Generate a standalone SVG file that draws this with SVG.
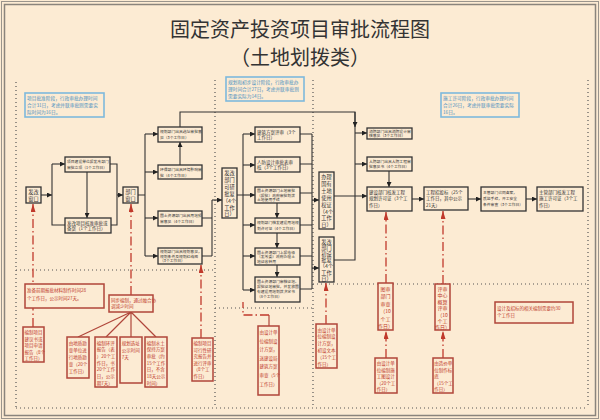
<svg xmlns="http://www.w3.org/2000/svg" width="600" height="420" viewBox="0 0 600 420">
<style>
.bg{fill:#fcebd3}
.bx{fill:#fcebd3;stroke:#333;stroke-width:1.3}
.rb{fill:#fcebd3;stroke:#b0463a;stroke-width:1.5}
.nb{fill:#fcebd3;stroke:#7db9dc;stroke-width:1.6}
text{font-family:"Noto Sans CJK SC","Noto Sans",sans-serif;fill:#333}
.t{font-size:3.8px}
.t4{font-size:4.5px}
.tv{font-size:5.2px;text-anchor:middle}
.rt{font-size:4.5px;fill:#c0392b}
.rv{font-size:5px;fill:#c0392b;text-anchor:middle}
.bt{font-size:4.7px;fill:#4a8fc0}
.ln{fill:none;stroke:#333;stroke-width:1.1}
.ar{marker-end:url(#ab)}
.rl{fill:none;stroke:#c0392b;stroke-width:1.3;stroke-dasharray:9 3 1.5 3}
.rs{fill:none;stroke:#b0463a;stroke-width:1.2}
.ra{marker-end:url(#ar)}
.dot{fill:none;stroke:#555;stroke-width:1.2;stroke-dasharray:1 3}
</style>
<defs>
<marker id="ab" viewBox="0 0 6 6" markerWidth="5" markerHeight="5" refX="6" refY="3" orient="auto" markerUnits="userSpaceOnUse"><path d="M0,0L6,3L0,6z" fill="#222"/></marker>
<marker id="ar" viewBox="0 0 8 5" markerWidth="8" markerHeight="5" refX="8" refY="2.5" orient="auto" markerUnits="userSpaceOnUse"><path d="M0,0L8,2.5L0,5z" fill="#c0392b"/></marker>
</defs>
<rect class="bg" x="0" y="0" width="600" height="420"/>
<rect x="1.5" y="1.5" width="597" height="417" fill="none" stroke="#9a948c" stroke-width="1"/>
<rect x="4.5" y="4.5" width="591" height="411" fill="none" stroke="#8a847c" stroke-width="1.5"/>
<g id="title">
<text x="300" y="37" font-size="20" text-anchor="middle">固定资产投资项目审批流程图</text>
<text x="300" y="65" font-size="20" text-anchor="middle">（土地划拨类）</text>
</g>
<g id="dividers">
<path class="dot" d="M16,82V408M215,80V408M313,80V408M588,80V408M16,408H588M16,270H215M215,308H313M313,284H588"/>
</g>
<g id="connectors">
<path class="ln ar" d="M41,195H52"/>
<path class="ln ar" d="M52,164H65"/>
<path class="ln" d="M52,164V225H65"/>
<path class="ln ar" d="M87,172V218"/>
<path class="ln" d="M110,164H117V225H111"/>
<path class="ln ar" d="M117,195H123"/>
<path class="ln" d="M138,195H145M145,134V256"/>
<path class="ln ar" d="M145,134H158"/>
<path class="ln ar" d="M145,172H158"/>
<path class="ln ar" d="M145,218H158"/>
<path class="ln ar" d="M145,256H158"/>
<path class="ln ar" d="M180,165V142"/>
<path class="ln" d="M180,127V112H355V127"/>
<path class="ln ar" d="M355,112V127"/>
<path class="ln" d="M355,127V260H334"/>
<path class="ln ar" d="M355,133H367"/>
<path class="ln ar" d="M355,164H367"/>
<path class="ln ar" d="M334,196H367"/>
<path class="ln ar" d="M389,171V187"/>
<path class="ln" d="M202,218H212M202,256H212M212,200V256"/>
<path class="ln ar" d="M212,200H222"/>
<path class="ln" d="M237,195H243M243,134V290"/>
<path class="ln ar" d="M243,134H255"/>
<path class="ln ar" d="M243,165H255"/>
<path class="ln ar" d="M243,195H255"/>
<path class="ln ar" d="M243,225H255"/>
<path class="ln ar" d="M243,256H255"/>
<path class="ln ar" d="M243,290H255"/>
<path class="ln ar" d="M277,203V218"/>
<path class="ln ar" d="M277,233V248"/>
<path class="ln ar" d="M277,265V277"/>
<path class="ln" d="M300,134H312M300,164H312M300,193H312M300,225H312M300,256H312M300,289H312M312,134V289"/>
<path class="ln ar" d="M312,200H319"/>
<path class="ln ar" d="M312,268H319"/>
<path class="ln ar" d="M412,199H424"/>
<path class="ln ar" d="M468,199H481"/>
<path class="ln ar" d="M526,199H537"/>
<path class="rl ra" d="M33,327V204"/>
<path class="rl ra" d="M131,295V204"/>
<path class="rs" d="M131,312L78,337M131,312L106,337M131,312L131,337M131,312L156,337"/>
<path class="rl ra" d="M201,338V265"/>
<path class="rs" d="M269,326V315"/>
<path class="rl" d="M269,315H243V302"/>
<path class="rl ra" d="M326,324V283"/>
<path class="rl ra" d="M386,283V212"/>
<path class="rl ra" d="M386,358V331"/>
<path class="rl ra" d="M443,284V211"/>
<path class="rl ra" d="M443,358V331"/>
</g>
<g id="note1"><rect class="nb" x="25" y="93" width="79" height="24"/><text class="bt" x="27" y="100">项目批准阶段，行政审批办理时间<tspan x="27" dy="6.8">合计31日，考虑并联审批则需要实</tspan><tspan x="27" dy="6.8">际时间为16日。</tspan></text></g>
<g id="note2"><rect class="nb" x="226" y="77" width="78" height="24"/><text class="bt" x="228" y="84">规划和初步设计阶段，行政审批办<tspan x="228" dy="6.8">理时间合计27日，考虑并联审批则</tspan><tspan x="228" dy="6.8">需要实际为14日。</tspan></text></g>
<g id="note3"><rect class="nb" x="441" y="93" width="78" height="24"/><text class="bt" x="443" y="100">施工许可阶段，行政审批办理时间<tspan x="443" dy="6.8">合计26日，考虑并联审批需要实际</tspan><tspan x="443" dy="6.8">16日。</tspan></text></g>
<g id="fagai-window"><rect class="bx" x="26" y="187" width="15" height="16"/><text class="tv" x="33.5" y="194">发改<tspan x="33.5" dy="6.5">窗口</tspan></text></g>
<g id="lixiang"><rect class="bx" x="65" y="157" width="45" height="15"/><text class="t" x="67" y="163">项目建设单位报发改部门<tspan x="67" dy="5.5">审批立项（1个工作日）</tspan></text></g>
<g id="hezhun"><rect class="bx" x="65" y="218" width="46" height="15"/><text class="t4" x="67" y="224.5">发改项目核准审批或<tspan x="67" dy="5.8">备案（1个工作日）</tspan></text></g>
<g id="bumen-window"><rect class="bx" x="123" y="187" width="15" height="16"/><text class="tv" x="130.5" y="194">部门<tspan x="130.5" dy="6.5">窗口</tspan></text></g>
<g id="xuanzhi"><rect class="bx" x="158" y="127" width="44" height="15"/><text class="t" x="160" y="133">规划部门出具选址审批意<tspan x="160" dy="5.5">见（3个工作日）</tspan></text></g>
<g id="huanping"><rect class="bx" x="158" y="165" width="44" height="14"/><text class="t" x="160" y="171">环保部门出具环境影响审<tspan x="160" dy="5.5">批（4个工作日）</tspan></text></g>
<g id="yushen"><rect class="bx" x="158" y="211" width="44" height="15"/><text class="t" x="160" y="217">国土资源部门出具用地预<tspan x="160" dy="5.5">审意见（4个工作日）</tspan></text></g>
<g id="guihua-yijian"><rect class="bx" x="158" y="248" width="44" height="16"/><text class="t" x="160" y="253">规划部门出具规划意见，<tspan x="160" dy="4.6">规划条件及规划红线图</tspan><tspan x="160" dy="4.6">（3个工作日）</tspan></text></g>
<g id="keyan"><rect class="bx" x="222" y="168" width="15" height="50"/><text class="tv" x="229.5" y="175">发改<tspan x="229.5" dy="6.9">部门</tspan><tspan x="229.5" dy="6.9">可研</tspan><tspan x="229.5" dy="6.9">批复</tspan><tspan x="229.5" dy="6.9">（4个</tspan><tspan x="229.5" dy="6.9">工作</tspan><tspan x="229.5" dy="6.9">日）</tspan></text></g>
<g id="jianzhu"><rect class="bx" x="255" y="127" width="45" height="15"/><text class="t4" x="257" y="133.5">建筑方案评审（3个<tspan x="257" dy="5.8">工作日）</tspan></text></g>
<g id="renfang-sheji"><rect class="bx" x="255" y="157" width="45" height="15"/><text class="t4" x="257" y="163.5">人防设计审批表审<tspan x="257" dy="5.8">核（3个工作日）</tspan></text></g>
<g id="tudi-shenpi"><rect class="bx" x="255" y="187" width="45" height="16"/><text class="t" x="257" y="192">国土资源部门土地审批<tspan x="257" dy="4.6">（报批）政府审批划拨</tspan><tspan x="257" dy="4.6">土地使用手续</tspan></text></g>
<g id="yongdi-xuke"><rect class="bx" x="255" y="218" width="45" height="15"/><text class="t" x="257" y="224">规划部门核发建设用地规<tspan x="257" dy="5.5">划许可证（4个工作日）</tspan></text></g>
<g id="zhengshou"><rect class="bx" x="255" y="248" width="45" height="17"/><text class="t" x="257" y="253.5">国土资源部门上报市级<tspan x="257" dy="4.8">（发改委）政府办理土</tspan><tspan x="257" dy="4.8">地征收转用</tspan></text></g>
<g id="huabo"><rect class="bx" x="255" y="277" width="45" height="25"/><text class="t" x="257" y="282.5">国土资源部门审核征地、<tspan x="257" dy="5.2">报批征地审批，并发放国</tspan><tspan x="257" dy="5.2">有建设用地划拨决定书</tspan><tspan x="257" dy="5.2">（8个工作日）</tspan></text></g>
<g id="tudi-zheng"><rect class="bx" x="319" y="172" width="15" height="57"/><text class="tv" x="326.5" y="179">办理<tspan x="326.5" dy="6.9">国有</tspan><tspan x="326.5" dy="6.9">土地</tspan><tspan x="326.5" dy="6.9">使用</tspan><tspan x="326.5" dy="6.9">权证</tspan><tspan x="326.5" dy="6.9">（4个</tspan><tspan x="326.5" dy="6.9">工作</tspan><tspan x="326.5" dy="6.9">日）</tspan></text></g>
<g id="chushe"><rect class="bx" x="319" y="237" width="15" height="45"/><text class="tv" x="326.5" y="243.5">发改<tspan x="326.5" dy="6.2">部门</tspan><tspan x="326.5" dy="6.2">初设</tspan><tspan x="326.5" dy="6.2">批复</tspan><tspan x="326.5" dy="6.2">（4个</tspan><tspan x="326.5" dy="6.2">工作</tspan><tspan x="326.5" dy="6.2">日）</tspan></text></g>
<g id="xiaofang"><rect class="bx" x="367" y="128" width="45" height="11"/><text class="t" x="369" y="132.8">消防部门出具消防设计审<tspan x="369" dy="4.6">核意见（3个工作日）</tspan></text></g>
<g id="renfang"><rect class="bx" x="367" y="157" width="45" height="14"/><text class="t" x="369" y="163">人防部门出具人防工程审<tspan x="369" dy="5.3">批意见书（4个工作日）</tspan></text></g>
<g id="gongcheng-guihua"><rect class="bx" x="367" y="187" width="45" height="24"/><text class="t4" x="369" y="194">建设部门核发工程<tspan x="369" dy="6.3">规划许可证（3个工</tspan><tspan x="369" dy="6.3">作日）</tspan></text></g>
<g id="zhaotoubiao"><rect class="bx" x="424" y="187" width="44" height="23"/><text class="t4" x="426" y="194">工程招投标（25个<tspan x="426" dy="6.3">工作日，其中公示</tspan><tspan x="426" dy="6.3">21天）</tspan></text></g>
<g id="beian"><rect class="bx" x="481" y="187" width="45" height="24"/><text class="t" x="483" y="193.5">主管部门合同备案，<tspan x="483" dy="6">质监手续，开工安全</tspan><tspan x="483" dy="6">条件审查（3个工作日）</tspan></text></g>
<g id="shigong-xuke"><rect class="bx" x="537" y="187" width="46" height="24"/><text class="t4" x="539" y="194">主管部门核发工程<tspan x="539" dy="6.3">施工许可证（3个工</tspan><tspan x="539" dy="6.3">作日）</tspan></text></g>
<g id="r-note1"><rect class="rb" x="25" y="284" width="79" height="24"/><text class="rt" x="27" y="292" font-size="4.8">准备前期报批材料制作时间28<tspan x="27" dy="7.5">个工作日，公示时间27天。</tspan></text></g>
<g id="r-jianyishu"><rect class="rb" x="23" y="327" width="21" height="35"/><text class="rt" x="24.5" y="334">编制项目<tspan x="24.5" dy="6.5">建议书或</tspan><tspan x="24.5" dy="6.5">项目申请</tspan><tspan x="24.5" dy="6.5">报告（8个</tspan><tspan x="24.5" dy="6.5">工作日）</tspan></text></g>
<g id="r-tongbu"><rect class="rb" x="109" y="295" width="44" height="17"/><text class="rt" x="111" y="301.5" font-size="4">同步编制，通过融合协<tspan x="111" dy="6">调减少时间</tspan></text></g>
<g id="r-dizhi"><rect class="rb" x="67" y="337" width="22" height="41"/><text class="rt" x="68.8" y="344.5">由地质勘<tspan x="68.8" dy="7">查单位进</tspan><tspan x="68.8" dy="7">行地质勘</tspan><tspan x="68.8" dy="7">查（20个</tspan><tspan x="68.8" dy="7">工作日）</tspan></text></g>
<g id="r-huanping"><rect class="rb" x="95" y="337" width="22" height="50"/><text class="rt" x="96.8" y="344.5">编制环评<tspan x="96.8" dy="6.7">报告（表</tspan><tspan x="96.8" dy="6.7">）20个工</tspan><tspan x="96.8" dy="6.7">作日，书</tspan><tspan x="96.8" dy="6.7">20个工作</tspan><tspan x="96.8" dy="6.7">日，公示</tspan><tspan x="96.8" dy="6.7">期7天）</tspan></text></g>
<g id="r-xuanzhi"><rect class="rb" x="120" y="337" width="22" height="46"/><text class="rt" x="121.8" y="344.5">规划选址<tspan x="121.8" dy="7">公示时间</tspan><tspan x="121.8" dy="7">7天</tspan></text></g>
<g id="r-shuitu"><rect class="rb" x="145" y="337" width="22" height="50"/><text class="rt" x="146.8" y="344.5">编制水土<tspan x="146.8" dy="6.7">保持方案</tspan><tspan x="146.8" dy="6.7">审批（约</tspan><tspan x="146.8" dy="6.7">15个工作</tspan><tspan x="146.8" dy="6.7">日，不含</tspan><tspan x="146.8" dy="6.7">18天公示</tspan><tspan x="146.8" dy="6.7">时间）</tspan></text></g>
<g id="r-keyan"><rect class="rb" x="192" y="338" width="21" height="43"/><text class="rt" x="193.5" y="345">编制项目<tspan x="193.5" dy="6.6">可行性研</tspan><tspan x="193.5" dy="6.6">究报告并</tspan><tspan x="193.5" dy="6.6">进行评审</tspan><tspan x="193.5" dy="6.6">（8个工</tspan><tspan x="193.5" dy="6.6">作日）</tspan></text></g>
<g id="r-fangan"><rect class="rb" x="258" y="326" width="21" height="69"/><text class="rt" x="259.5" y="334">由设计单<tspan x="259.5" dy="8.6">位编制设</tspan><tspan x="259.5" dy="8.6">计方案，</tspan><tspan x="259.5" dy="8.6">送建设局</tspan><tspan x="259.5" dy="8.6">建筑方案</tspan><tspan x="259.5" dy="8.6">审查（5个</tspan><tspan x="259.5" dy="8.6">工作日）</tspan></text></g>
<g id="r-chushe"><rect class="rb" x="316" y="324" width="21" height="44"/><text class="rt" x="317.5" y="331.5">由设计单<tspan x="317.5" dy="6.8">位编制设</tspan><tspan x="317.5" dy="6.8">计方案，</tspan><tspan x="317.5" dy="6.8">初设文本</tspan><tspan x="317.5" dy="6.8">（15个工</tspan><tspan x="317.5" dy="6.8">作日）</tspan></text></g>
<g id="r-tushen"><rect class="rb" x="378" y="283" width="15" height="47"/><text class="rv" x="385.5" y="291">图审<tspan x="385.5" dy="7.4">部门</tspan><tspan x="385.5" dy="7.4">审查</tspan><tspan x="385.5" dy="7.4">（10</tspan><tspan x="385.5" dy="7.4">个工</tspan><tspan x="385.5" dy="7.4">作日）</tspan></text></g>
<g id="r-shigongtu"><rect class="rb" x="375" y="358" width="22" height="35"/><text class="rt" x="376.8" y="365">由设计单<tspan x="376.8" dy="6.5">位编制施</tspan><tspan x="376.8" dy="6.5">工图设计</tspan><tspan x="376.8" dy="6.5">（20个工</tspan><tspan x="376.8" dy="6.5">作日）</tspan></text></g>
<g id="r-pingshen"><rect class="rb" x="435" y="284" width="15" height="46"/><text class="rv" x="442.5" y="291">评审<tspan x="442.5" dy="6.4">中心</tspan><tspan x="442.5" dy="6.4">概算</tspan><tspan x="442.5" dy="6.4">评审</tspan><tspan x="442.5" dy="6.4">（10</tspan><tspan x="442.5" dy="6.4">个工</tspan><tspan x="442.5" dy="6.4">作日）</tspan></text></g>
<g id="r-biaodi"><rect class="rb" x="433" y="358" width="20" height="35"/><text class="rt" x="434.3" y="365" font-size="4.3">由造价单<tspan x="434.3" dy="6.5">位制作标</tspan><tspan x="434.3" dy="6.5">底</tspan><tspan x="434.3" dy="6.5">（15个工</tspan><tspan x="434.3" dy="6.5">作日）</tspan></text></g>
<g id="r-note2"><rect class="rb" x="495" y="302" width="78" height="21"/><text class="rt" x="497" y="309.5" font-size="4.8">设计及招标的相关编制需要约30<tspan x="497" dy="7">个工作日</tspan></text></g>
</svg>
